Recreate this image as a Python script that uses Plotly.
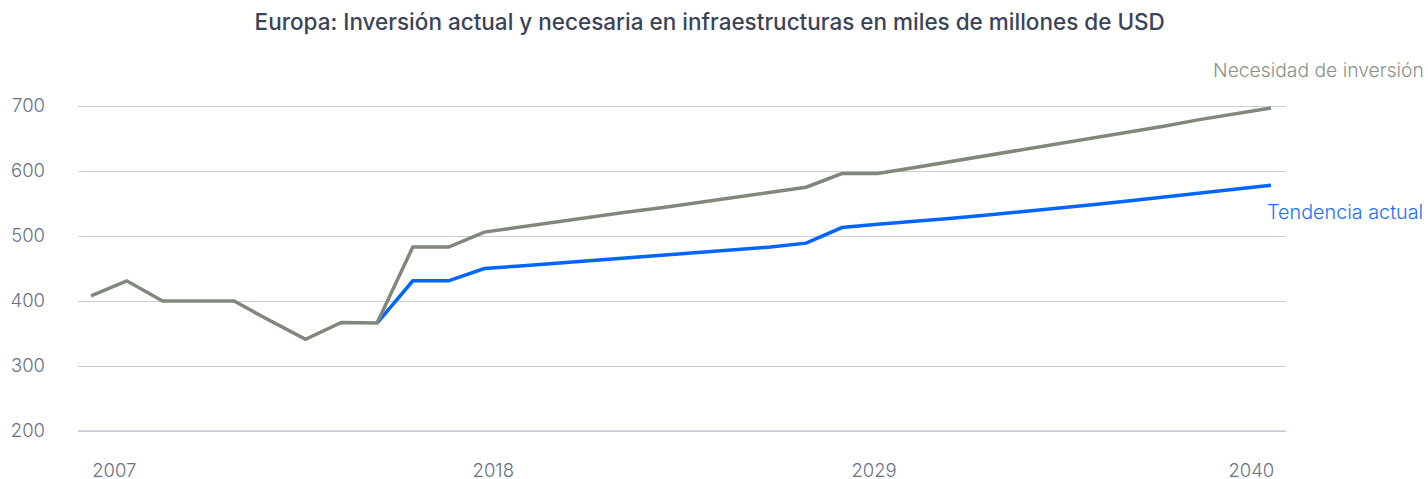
import plotly.graph_objects as go

years = list(range(2007, 2041))

need = [408, 431, 400, 400, 400, 370, 341, 367, 366, 483, 483, 506,
        514, 521, 529, 537, 544, 552, 560, 567, 575, 596, 596,
        605, 614, 623, 633, 642, 651, 660, 669, 679, 688, 697]

trend = [None, None, None, None, None, None, None, None, 366, 431, 431, 450,
         454, 458, 462, 466, 470, 474, 478, 483, 489, 513, 518,
         522, 527, 532, 537, 542, 548, 554, 560, 566, 572, 578]

x_tick_labels = ["2007", "2018", "2029", "2040"]
y_tick_vals = [200, 300, 400, 500, 600, 700]

title_text = "Europa: Inversión actual y necesaria en infraestructuras en miles de millones de USD"
label_need = "Necesidad de inversión"
label_trend = "Tendencia actual"

GREY = "#7f887b"
BLUE = "#0066ff"

fig = go.Figure()
fig.add_trace(go.Scatter(x=years, y=trend, mode="lines",
                         line=dict(color=BLUE, width=3.5), connectgaps=False,
                         showlegend=False, hoverinfo="x+y"))
fig.add_trace(go.Scatter(x=years, y=need, mode="lines",
                         line=dict(color=GREY, width=3.5),
                         showlegend=False, hoverinfo="x+y"))

# bottom baseline slightly heavier
fig.add_shape(type="line", xref="paper", x0=0, x1=1, yref="y", y0=200, y1=200,
              line=dict(color="#d4d6e2", width=2), layer="below")

fig.update_layout(
    width=1428, height=479,
    margin=dict(l=78, r=142, t=60, b=39, autoexpand=False),
    paper_bgcolor="white", plot_bgcolor="white",
    title=dict(text=title_text, x=0.497, xanchor="center", y=0.954, yanchor="middle",
               font=dict(family="Inter", size=22.5, color="#3b4358", weight=500)),
    xaxis=dict(range=[2006.636, 2040.42], showgrid=False, zeroline=False,
               showline=False, ticks="", automargin=False,
               tickvals=[2007.65, 2018.25, 2028.9, 2039.45], ticktext=x_tick_labels,
               tickfont=dict(family="Inter", size=18.5, color="#6a6f85", weight=300),
               ticklabelstandoff=17),
    yaxis=dict(range=[186.15, 770.77], tickvals=y_tick_vals, showgrid=True,
               gridcolor="#c9ccdb", gridwidth=1, zeroline=False, showline=False,
               ticks="", automargin=False,
               tickfont=dict(family="Inter", size=18.5, color="#6a6f85", weight=300),
               ticklabelstandoff=32),
    annotations=[
        dict(text=label_need, xref="paper", yref="paper", x=0.9375, y=0.9737,
             xanchor="left", yanchor="middle", showarrow=False,
             font=dict(family="Inter", size=19.3, color="#8b9189", weight=300)),
        dict(text=label_trend, xref="paper", yref="paper", x=0.9825, y=0.6,
             xanchor="left", yanchor="middle", showarrow=False,
             font=dict(family="Inter", size=19.8, color="#1f6ff5", weight=300)),
    ],
)

fig.write_html("out.html", config={"displayModeBar": False},
               post_script="document.body.style.margin='0';document.body.style.overflow='hidden';")
